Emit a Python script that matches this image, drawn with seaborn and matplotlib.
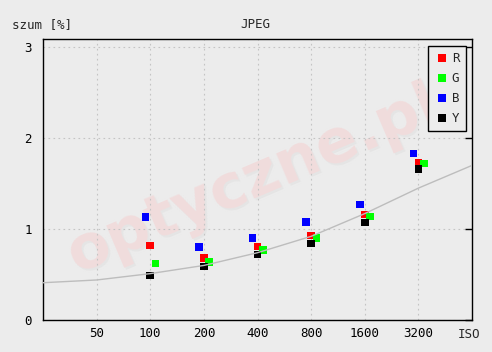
import numpy as np
import pandas as pd
import matplotlib
matplotlib.use("Agg")
import matplotlib.pyplot as plt
import seaborn as sns

# -----------------------------
# data
# -----------------------------
iso = [100, 200, 400, 800, 1600, 3200]
noise_r = [0.82, 0.68, 0.81, 0.93, 1.16, 1.73]
noise_g = [0.62, 0.64, 0.77, 0.90, 1.14, 1.72]
noise_b = [1.13, 0.80, 0.90, 1.08, 1.27, 1.83]
noise_y = [0.49, 0.59, 0.72, 0.84, 1.07, 1.66]

fit_iso = [25, 50, 100, 200, 400, 800, 1600, 3200, 6400]
fit_val = [0.41, 0.44, 0.51, 0.60, 0.74, 0.92, 1.17, 1.45, 1.70]

channels = ["R", "G", "B", "Y"]
colors = {"R": "#ff0000", "G": "#00ff00", "B": "#0000ff", "Y": "#000000"}
# small horizontal dodge (in octaves) so the squares don't sit on top of each other
dodge = {"R": 0.0, "G": 0.1, "B": -0.09, "Y": 0.0}

rows = []
for ch, vals in zip(channels, [noise_r, noise_g, noise_b, noise_y]):
    for i, v in zip(iso, vals):
        rows.append({"channel": ch, "iso": i * 2 ** dodge[ch], "noise": v})
df = pd.DataFrame(rows)
fit = pd.DataFrame({"iso": fit_iso, "noise": fit_val})

# -----------------------------
# plot
# -----------------------------
sns.set_style("white")
bg = "#ececec"
plt.rcParams["font.family"] = ["DejaVu Sans Mono", "DejaVu Sans"]

fig = plt.figure(figsize=(4.92, 3.52), dpi=100, facecolor=bg)
ax = fig.add_axes([43 / 492, 1 - 320 / 352, 429 / 492, 281 / 352])
ax.set_facecolor(bg)

# watermark (faint shadow + pink text)
for dx, dy, c in [(0.005, -0.008, "#e5e5e5"), (0, 0, "#f1dcdc")]:
    ax.text(0.49 + dx, 0.5 + dy, "optyczne.pl", transform=ax.transAxes,
            fontsize=44, fontweight="bold", color=c, rotation=23,
            ha="center", va="center", zorder=0, family="DejaVu Sans")

sns.lineplot(data=fit, x="iso", y="noise", color="#bdbdbd", lw=1,
             ax=ax, zorder=4, legend=False)
sns.scatterplot(data=df, x="iso", y="noise", hue="channel", palette=colors,
                hue_order=channels, marker="s", s=30, edgecolor="none",
                linewidth=0, ax=ax, zorder=3)

ax.set_xscale("log", base=2)
ax.set_xlim(25, 6400)
ax.set_ylim(0, 3.09)
ax.set_xticks([50, 100, 200, 400, 800, 1600, 3200])
ax.set_xticklabels(["50", "100", "200", "400", "800", "1600", "3200"])
ax.xaxis.set_minor_locator(matplotlib.ticker.NullLocator())
ax.set_yticks([0, 1, 2, 3])
ax.set_yticklabels(["0", "1", "2", "3"])
ax.tick_params(axis="x", length=0, labelsize=9, pad=5, colors="black")
ax.tick_params(axis="y", direction="in", length=5, width=1, labelsize=9,
               right=True, pad=8, colors="black")
ax.grid(True, color="#c4c4c4", linestyle=(0, (1.5, 3)), lw=0.8)
for sp in ax.spines.values():
    sp.set_color("black")
    sp.set_linewidth(1)

ax.set_xlabel("")
ax.set_ylabel("")
fig.text(12 / 492, 1 - 25 / 352, "szum [%]", fontsize=9, va="center", ha="left")
fig.text(255 / 492, 1 - 25 / 352, "JPEG", fontsize=9, va="center", ha="center")
fig.text(469 / 492, 1 - 334 / 352, "ISO", fontsize=9, va="center", ha="center")

leg = ax.legend(loc="upper right", bbox_to_anchor=(0.985, 0.975), frameon=True,
                fancybox=False, framealpha=1, facecolor=bg, edgecolor="black",
                handletextpad=0.2, labelspacing=0.55, borderpad=0.5,
                markerscale=1.0, fontsize=9, handlelength=1.2, borderaxespad=0)
leg.get_frame().set_linewidth(1)

fig.savefig("out.png", dpi=100, facecolor=bg)
